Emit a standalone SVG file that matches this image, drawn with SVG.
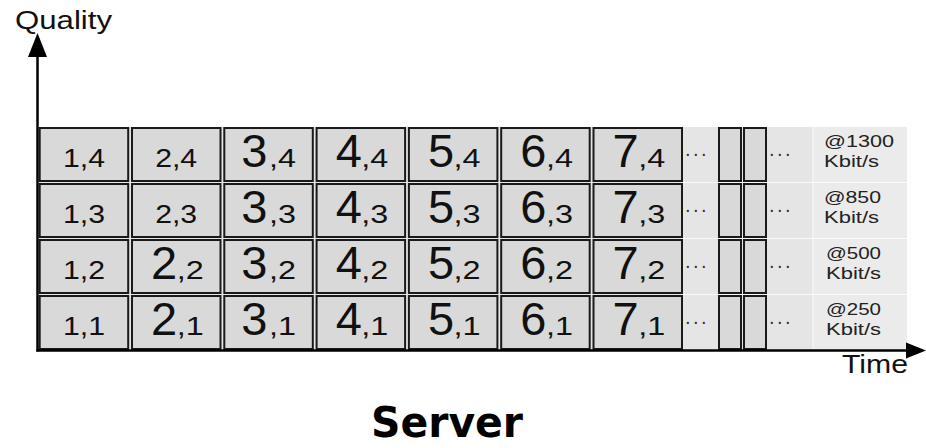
<svg xmlns="http://www.w3.org/2000/svg" width="926" height="448" viewBox="0 0 926 448">
<style>
.cell{fill:#d9d9d9;stroke:#1a1a1a;stroke-width:2}
.s{font-family:"Liberation Sans",Arial,sans-serif;font-size:25px;fill:#111}
.b{font-family:"Liberation Sans",Arial,sans-serif;font-size:47px;fill:#111}
.sub{font-family:"Liberation Sans",Arial,sans-serif;font-size:25px;fill:#111}
.r{font-family:"Liberation Sans",Arial,sans-serif;font-size:16px;fill:#222}
.d{font-family:"Liberation Sans",Arial,sans-serif;font-size:20px;fill:#333;letter-spacing:2.5px}
.ax{font-family:"Liberation Sans",Arial,sans-serif;font-size:26px;fill:#111}
.grid{stroke:#ffffff;stroke-width:1;opacity:0.8}
</style>
<rect x="37" y="127" width="870" height="223" fill="#e5e5e5"/>
<rect x="813" y="127" width="94" height="223" fill="#ebebeb"/>
<g id="bg-lines">
<line class="grid" x1="683" y1="182.5" x2="907" y2="182.5"/>
<line class="grid" x1="683" y1="238.5" x2="907" y2="238.5"/>
<line class="grid" x1="683" y1="294.5" x2="907" y2="294.5"/>
<line class="grid" x1="813" y1="127" x2="813" y2="350"/>
</g>

<!-- Row quality 4 -->
<g id="c1_4"><rect class="cell" x="39.7" y="128" width="88.5" height="53"/><text class="s" x="84" y="166.5" text-anchor="middle" textLength="42" lengthAdjust="spacingAndGlyphs">1,4</text></g>
<g id="c2_4"><rect class="cell" x="132" y="128" width="88.5" height="53"/><text class="s" x="176.2" y="166.5" text-anchor="middle" textLength="42" lengthAdjust="spacingAndGlyphs">2,4</text></g>
<g id="c3_4"><rect class="cell" x="224.3" y="128" width="88.5" height="53"/><text class="b" x="267.5" y="166.5" text-anchor="end">3</text><text class="sub" x="269" y="166.5" textLength="27" lengthAdjust="spacingAndGlyphs">,4</text></g>
<g id="c4_4"><rect class="cell" x="316.6" y="128" width="88.5" height="53"/><text class="b" x="361.8" y="166.5" text-anchor="end">4</text><text class="sub" x="361.3" y="166.5" textLength="27" lengthAdjust="spacingAndGlyphs">,4</text></g>
<g id="c5_4"><rect class="cell" x="408.9" y="128" width="88.5" height="53"/><text class="b" x="454.1" y="166.5" text-anchor="end">5</text><text class="sub" x="453.6" y="166.5" textLength="27" lengthAdjust="spacingAndGlyphs">,4</text></g>
<g id="c6_4"><rect class="cell" x="501.2" y="128" width="88.5" height="53"/><text class="b" x="546.4" y="166.5" text-anchor="end">6</text><text class="sub" x="545.9" y="166.5" textLength="27" lengthAdjust="spacingAndGlyphs">,4</text></g>
<g id="c7_4"><rect class="cell" x="593.5" y="128" width="88.5" height="53"/><text class="b" x="638.7" y="166.5" text-anchor="end">7</text><text class="sub" x="638.2" y="166.5" textLength="27" lengthAdjust="spacingAndGlyphs">,4</text></g>

<!-- Row quality 3 -->
<g id="c1_3"><rect class="cell" x="39.7" y="184" width="88.5" height="53"/><text class="s" x="84" y="222.5" text-anchor="middle" textLength="42" lengthAdjust="spacingAndGlyphs">1,3</text></g>
<g id="c2_3"><rect class="cell" x="132" y="184" width="88.5" height="53"/><text class="s" x="176.2" y="222.5" text-anchor="middle" textLength="42" lengthAdjust="spacingAndGlyphs">2,3</text></g>
<g id="c3_3"><rect class="cell" x="224.3" y="184" width="88.5" height="53"/><text class="b" x="267.5" y="222.5" text-anchor="end">3</text><text class="sub" x="269" y="222.5" textLength="27" lengthAdjust="spacingAndGlyphs">,3</text></g>
<g id="c4_3"><rect class="cell" x="316.6" y="184" width="88.5" height="53"/><text class="b" x="361.8" y="222.5" text-anchor="end">4</text><text class="sub" x="361.3" y="222.5" textLength="27" lengthAdjust="spacingAndGlyphs">,3</text></g>
<g id="c5_3"><rect class="cell" x="408.9" y="184" width="88.5" height="53"/><text class="b" x="454.1" y="222.5" text-anchor="end">5</text><text class="sub" x="453.6" y="222.5" textLength="27" lengthAdjust="spacingAndGlyphs">,3</text></g>
<g id="c6_3"><rect class="cell" x="501.2" y="184" width="88.5" height="53"/><text class="b" x="546.4" y="222.5" text-anchor="end">6</text><text class="sub" x="545.9" y="222.5" textLength="27" lengthAdjust="spacingAndGlyphs">,3</text></g>
<g id="c7_3"><rect class="cell" x="593.5" y="184" width="88.5" height="53"/><text class="b" x="638.7" y="222.5" text-anchor="end">7</text><text class="sub" x="638.2" y="222.5" textLength="27" lengthAdjust="spacingAndGlyphs">,3</text></g>

<!-- Row quality 2 -->
<g id="c1_2"><rect class="cell" x="39.7" y="240" width="88.5" height="53"/><text class="s" x="84" y="278.5" text-anchor="middle" textLength="42" lengthAdjust="spacingAndGlyphs">1,2</text></g>
<g id="c2_2"><rect class="cell" x="132" y="240" width="88.5" height="53"/><text class="b" x="177.2" y="278.5" text-anchor="end">2</text><text class="sub" x="176.7" y="278.5" textLength="27" lengthAdjust="spacingAndGlyphs">,2</text></g>
<g id="c3_2"><rect class="cell" x="224.3" y="240" width="88.5" height="53"/><text class="b" x="267.5" y="278.5" text-anchor="end">3</text><text class="sub" x="269" y="278.5" textLength="27" lengthAdjust="spacingAndGlyphs">,2</text></g>
<g id="c4_2"><rect class="cell" x="316.6" y="240" width="88.5" height="53"/><text class="b" x="361.8" y="278.5" text-anchor="end">4</text><text class="sub" x="361.3" y="278.5" textLength="27" lengthAdjust="spacingAndGlyphs">,2</text></g>
<g id="c5_2"><rect class="cell" x="408.9" y="240" width="88.5" height="53"/><text class="b" x="454.1" y="278.5" text-anchor="end">5</text><text class="sub" x="453.6" y="278.5" textLength="27" lengthAdjust="spacingAndGlyphs">,2</text></g>
<g id="c6_2"><rect class="cell" x="501.2" y="240" width="88.5" height="53"/><text class="b" x="546.4" y="278.5" text-anchor="end">6</text><text class="sub" x="545.9" y="278.5" textLength="27" lengthAdjust="spacingAndGlyphs">,2</text></g>
<g id="c7_2"><rect class="cell" x="593.5" y="240" width="88.5" height="53"/><text class="b" x="638.7" y="278.5" text-anchor="end">7</text><text class="sub" x="638.2" y="278.5" textLength="27" lengthAdjust="spacingAndGlyphs">,2</text></g>

<!-- Row quality 1 -->
<g id="c1_1"><rect class="cell" x="39.7" y="296" width="88.5" height="53"/><text class="s" x="84" y="334.5" text-anchor="middle" textLength="42" lengthAdjust="spacingAndGlyphs">1,1</text></g>
<g id="c2_1"><rect class="cell" x="132" y="296" width="88.5" height="53"/><text class="b" x="177.2" y="334.5" text-anchor="end">2</text><text class="sub" x="176.7" y="334.5" textLength="27" lengthAdjust="spacingAndGlyphs">,1</text></g>
<g id="c3_1"><rect class="cell" x="224.3" y="296" width="88.5" height="53"/><text class="b" x="267.5" y="334.5" text-anchor="end">3</text><text class="sub" x="269" y="334.5" textLength="27" lengthAdjust="spacingAndGlyphs">,1</text></g>
<g id="c4_1"><rect class="cell" x="316.6" y="296" width="88.5" height="53"/><text class="b" x="361.8" y="334.5" text-anchor="end">4</text><text class="sub" x="361.3" y="334.5" textLength="27" lengthAdjust="spacingAndGlyphs">,1</text></g>
<g id="c5_1"><rect class="cell" x="408.9" y="296" width="88.5" height="53"/><text class="b" x="454.1" y="334.5" text-anchor="end">5</text><text class="sub" x="453.6" y="334.5" textLength="27" lengthAdjust="spacingAndGlyphs">,1</text></g>
<g id="c6_1"><rect class="cell" x="501.2" y="296" width="88.5" height="53"/><text class="b" x="546.4" y="334.5" text-anchor="end">6</text><text class="sub" x="545.9" y="334.5" textLength="27" lengthAdjust="spacingAndGlyphs">,1</text></g>
<g id="c7_1"><rect class="cell" x="593.5" y="296" width="88.5" height="53"/><text class="b" x="638.7" y="334.5" text-anchor="end">7</text><text class="sub" x="638.2" y="334.5" textLength="27" lengthAdjust="spacingAndGlyphs">,1</text></g>

<!-- continuation: dots and narrow segments -->
<g id="more_4"><text class="d" x="685" y="156">...</text><rect class="cell" x="719" y="128" width="22" height="53"/><rect class="cell" x="744" y="128" width="22" height="53"/><text class="d" x="769" y="156">...</text></g>
<g id="more_3"><text class="d" x="685" y="212">...</text><rect class="cell" x="719" y="184" width="22" height="53"/><rect class="cell" x="744" y="184" width="22" height="53"/><text class="d" x="769" y="212">...</text></g>
<g id="more_2"><text class="d" x="685" y="268">...</text><rect class="cell" x="719" y="240" width="22" height="53"/><rect class="cell" x="744" y="240" width="22" height="53"/><text class="d" x="769" y="268">...</text></g>
<g id="more_1"><text class="d" x="685" y="324">...</text><rect class="cell" x="719" y="296" width="22" height="53"/><rect class="cell" x="744" y="296" width="22" height="53"/><text class="d" x="769" y="324">...</text></g>

<!-- bitrate labels -->
<g id="rate_1300"><text class="r" x="824" y="147" textLength="70" lengthAdjust="spacingAndGlyphs">@1300</text><text class="r" x="824" y="167" textLength="55" lengthAdjust="spacingAndGlyphs">Kbit/s</text></g>
<g id="rate_850"><text class="r" x="824" y="203" textLength="57" lengthAdjust="spacingAndGlyphs">@850</text><text class="r" x="824" y="223" textLength="55" lengthAdjust="spacingAndGlyphs">Kbit/s</text></g>
<g id="rate_500"><text class="r" x="826" y="259" textLength="55" lengthAdjust="spacingAndGlyphs">@500</text><text class="r" x="826" y="279" textLength="55" lengthAdjust="spacingAndGlyphs">Kbit/s</text></g>
<g id="rate_250"><text class="r" x="826" y="315" textLength="55" lengthAdjust="spacingAndGlyphs">@250</text><text class="r" x="826" y="335" textLength="55" lengthAdjust="spacingAndGlyphs">Kbit/s</text></g>

<!-- axes -->
<g id="axes">
<line x1="37.5" y1="55" x2="37.5" y2="351.5" stroke="#000" stroke-width="2.5"/>
<polygon points="37.5,33 28,57 47,57" fill="#000"/>
<line x1="36.5" y1="350.5" x2="908" y2="350.5" stroke="#000" stroke-width="2.5"/>
<polygon points="926,350.5 906,342.5 906,358.5" fill="#000"/>
</g>
<g id="axis-labels">
<text class="ax" x="15" y="29" textLength="97" lengthAdjust="spacingAndGlyphs">Quality</text>
<text class="ax" x="842" y="373" textLength="66" lengthAdjust="spacingAndGlyphs">Time</text>
</g>
<g id="title">
<text x="371" y="437" font-family="'DejaVu Sans',sans-serif" font-weight="bold" font-size="42" fill="#000" textLength="152" lengthAdjust="spacingAndGlyphs">Server</text>
</g>
</svg>
